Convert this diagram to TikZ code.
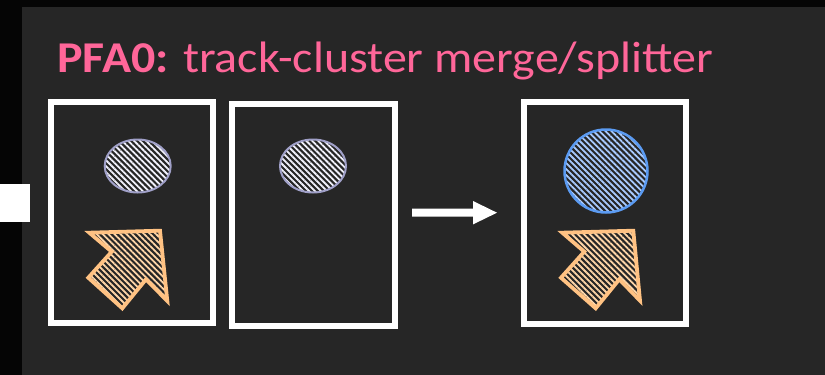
\documentclass[tikz,border=0pt]{standalone}
\usepackage{fontspec}
\setmainfont{Carlito}
\usetikzlibrary{patterns.meta}
\definecolor{bg}{HTML}{262626}
\definecolor{blk}{HTML}{050505}
\definecolor{pinkt}{HTML}{FF6699}
\definecolor{lavb}{HTML}{A0A0C8}
\definecolor{lavh}{HTML}{F2F2FC}
\definecolor{blub}{HTML}{5B9BF2}
\definecolor{bluh}{HTML}{A9CBFF}
\definecolor{orgb}{HTML}{FFC283}
\definecolor{orgh}{HTML}{FFD6A8}
\tikzset{
  panel/.style={draw=white, line width=6pt},
  cluster/.style={draw=lavb, line width=2pt, pattern={Lines[angle=-45,distance=4.2pt,line width=1.8pt]}, pattern color=lavh},
  merged/.style={draw=blub, line width=2.5pt, pattern={Lines[angle=-45,distance=4.2pt,line width=1.8pt]}, pattern color=bluh},
  trackarrow/.style={draw=orgb, line width=3.8pt, line join=miter, pattern={Lines[angle=-45,distance=4.2pt,line width=1.8pt]}, pattern color=orgh},
}
\begin{document}
\begin{tikzpicture}[x=1pt,y=-1pt]
\useasboundingbox (0,0) rectangle (825,375);
\fill[bg] (0,0) rectangle (825,375);
\fill[blk] (0,0) rectangle (825,7);
\fill[blk] (0,0) rectangle (22,375);
\fill[white] (0,183.5) rectangle (29.5,222.3);
\node[anchor=base west, inner sep=0pt, text=pinkt, font=\fontsize{44}{50}\selectfont] (title) at (57,72.7) {\scalebox{1.09}[1]{\textbf{PFA0:} track-cluster merge/splitter}};
% panels
\draw[panel] (51,102) rectangle (213,323) coordinate (p1);
\draw[panel] (232,104) rectangle (395,326) coordinate (p2);
\draw[panel] (524,102) rectangle (686,324) coordinate (p3);
% clusters
\path[cluster] (137.7,166) ellipse [x radius=33, y radius=26.5];
\path[cluster] (313,166) ellipse [x radius=33, y radius=26.5];
\path[merged] (606,171) circle [radius=41.5];
% track arrows
\path[trackarrow] (89.3,232.7) -- (160,230.7) -- (167.3,301) -- (146,279.3) -- (122.3,308.3) -- (88.3,277.7) -- (111.7,251.7) -- cycle;
\path[trackarrow] (562.3,232.7) -- (633.3,230.7) -- (640,300.7) -- (619.3,279.3) -- (595.7,308.3) -- (561,277.7) -- (584.3,251.7) -- cycle;
% process arrow
\fill[white] (412,208.7) -- (473,208.7) -- (473,201) -- (497,212.7) -- (473,224.4) -- (473,216.7) -- (412,216.7) -- cycle;
\end{tikzpicture}
\end{document}
